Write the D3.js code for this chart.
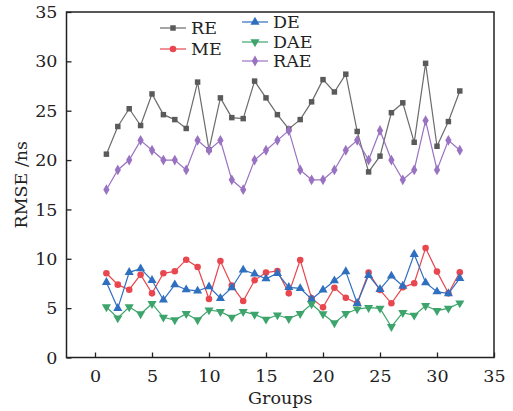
<!DOCTYPE html>
<html>
<head>
<meta charset="utf-8">
<script src="https://cdn.jsdelivr.net/npm/d3@7/dist/d3.min.js"></script>
<style>
  html, body { margin: 0; padding: 0; background: #fff; }
  svg text { font-family: "DejaVu Serif", "Liberation Serif", serif; fill: #222; }
</style>
</head>
<body>
<svg id="chart" width="513" height="411"></svg>
<script>
// Groups 1..32 and the RMSE (ns) of each method per group
const groups = d3.range(1, 33);
const RE  = [20.6, 23.4, 25.2, 23.5, 26.7, 24.6, 24.1, 23.2, 27.9, 21.05, 26.3, 24.3, 24.2, 28.0, 26.3, 24.6,
             23.15, 24.1, 25.9, 28.15, 26.9, 28.7, 22.9, 18.8, 20.4, 24.8, 25.8, 21.8, 29.8, 21.4, 23.9, 27.0];
const ME  = [8.53, 7.38, 6.87, 8.39, 6.5, 8.53, 8.73, 9.91, 9.17, 5.93, 9.78, 7.28, 5.72, 7.82, 8.6, 8.76,
             6.5, 9.88, 6.0, 5.08, 7.07, 6.06, 5.49, 8.6, 6.84, 5.49, 7.11, 7.52, 11.09, 8.7, 6.5, 8.63];
const DE  = [7.62, 4.98, 8.63, 9.0, 7.82, 5.83, 7.38, 6.87, 6.74, 7.17, 6.0, 7.07, 8.87, 8.46, 7.98, 8.53,
             7.11, 7.0, 5.9, 6.84, 7.78, 8.7, 5.49, 8.33, 6.91, 8.26, 7.24, 10.46, 7.58, 6.67, 6.47, 8.02];
const DAE = [5.12, 4.0, 5.12, 4.41, 5.45, 4.07, 3.8, 4.44, 3.8, 4.81, 4.64, 4.07, 4.64, 4.37, 3.87, 4.3,
             3.93, 4.44, 5.42, 4.41, 3.5, 4.44, 4.91, 5.05, 4.98, 3.12, 4.54, 4.27, 5.25, 4.74, 4.98, 5.52];
const RAE = [17, 19, 20, 22, 21, 20, 20, 19, 22, 21, 22, 18, 17, 20, 21, 22,
             23, 19, 18, 18, 19, 21, 22, 20, 23, 20, 18, 19, 24, 19, 22, 21];

const xTicks = [0, 5, 10, 15, 20, 25, 30, 35];
const yTicks = [0, 5, 10, 15, 20, 25, 30, 35];

const seriesNames = ["RE", "ME", "DE", "DAE", "RAE"];
const seriesValues = [RE, ME, DE, DAE, RAE];
const colors  = ["#6b6b6b", "#e8474f", "#2f6fbf", "#3da46c", "#9a72c2"];
const markerColors = ["#5a5a5a", "#e8474f", "#2f6fbf", "#3da46c", "#9a72c2"];
const symbols = [d3.symbolSquare, d3.symbolCircle, d3.symbolTriangle, d3.symbolTriangle, d3.symbolDiamond];
const symSizes = [30, 34, 36, 36, 34];
const symRot = [0, 0, 0, 180, 0];

const svg = d3.select("#chart");
const m = { left: 66.5, right: 494, top: 12, bottom: 357.5 };

const x = d3.scaleLinear().domain([-2.5, 35]).range([m.left, m.right]);
const y = d3.scaleLinear().domain([0, 35]).range([m.bottom, m.top]);

// Axes with inward ticks
const xAxis = svg.append("g").attr("transform", `translate(0,${m.bottom})`)
  .call(d3.axisBottom(x).tickValues(xTicks).tickSizeInner(-5).tickSizeOuter(0).tickPadding(9));
const yAxis = svg.append("g").attr("transform", `translate(${m.left},0)`)
  .call(d3.axisLeft(y).tickValues(yTicks).tickSizeInner(-5).tickSizeOuter(0).tickPadding(9));

[xAxis, yAxis].forEach(g => {
  g.select(".domain").remove();
  g.selectAll(".tick line").attr("stroke", "#222").attr("stroke-width", 1.3);
  g.selectAll(".tick text").style("font-size", "17.5px").attr("fill", "#222");
});
xAxis.selectAll(".tick text").attr("dy", "0.9em");

// Plot frame
svg.append("rect")
  .attr("x", m.left).attr("y", m.top)
  .attr("width", m.right - m.left).attr("height", m.bottom - m.top)
  .attr("fill", "none").attr("stroke", "#222").attr("stroke-width", 1.5);

// Axis titles
svg.append("text").attr("x", (m.left + m.right) / 2).attr("y", 404)
  .attr("text-anchor", "middle").style("font-size", "17.5px").text("Groups");
svg.append("text")
  .attr("transform", `translate(27,${(m.top + m.bottom) / 2}) rotate(-90)`)
  .attr("text-anchor", "middle").style("font-size", "17.5px").text("RMSE /ns");

// Series lines and markers
const line = d3.line().x((d, i) => x(groups[i])).y(d => y(d));
const symbolPath = (k) => d3.symbol().type(symbols[k]).size(symSizes[k])();

seriesValues.forEach((vals, k) => {
  const g = svg.append("g");
  g.append("path").datum(vals)
    .attr("d", line).attr("fill", "none")
    .attr("stroke", colors[k]).attr("stroke-width", 1.2);
  g.selectAll("path.pt").data(vals).join("path")
    .attr("class", "pt")
    .attr("d", symbolPath(k))
    .attr("transform", (d, i) => `translate(${x(groups[i])},${y(d)}) rotate(${symRot[k]})`)
    .attr("fill", markerColors[k]);
});

// Legend in two columns
const legendPos = [
  { lx: 160, ly: 28 }, { lx: 160, ly: 49 },
  { lx: 242, ly: 22 }, { lx: 242, ly: 42 }, { lx: 242, ly: 61 }
];
seriesNames.forEach((name, k) => {
  const p = legendPos[k];
  const g = svg.append("g").attr("transform", `translate(${p.lx},${p.ly})`);
  g.append("line").attr("x1", 0).attr("x2", 26).attr("y1", 0).attr("y2", 0)
    .attr("stroke", colors[k]).attr("stroke-width", 1.2);
  g.append("path").attr("d", symbolPath(k))
    .attr("transform", `translate(13,0) rotate(${symRot[k]})`)
    .attr("fill", markerColors[k]);
  g.append("text").attr("x", 31).attr("y", 0).attr("dy", "0.35em")
    .style("font-size", "17.5px").text(name);
});
</script>
</body>
</html>
